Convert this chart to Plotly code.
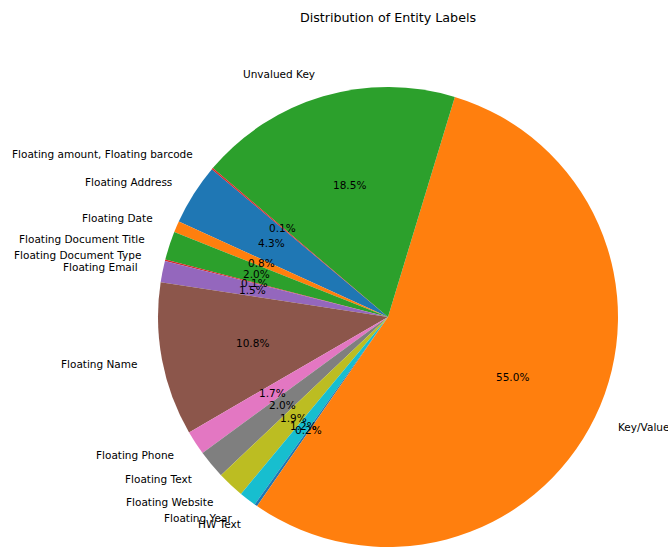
import math
import plotly.graph_objects as go

labels = [
    "Floating Address", "Floating Date", "Floating Document Title",
    "Floating Document Type", "Floating Email", "Floating Name",
    "Floating Phone", "Floating Text", "Floating Website", "Floating Year",
    "HW Text", "Key/Value", "Unvalued Key", "Floating amount, Floating barcode",
]
values = [4.3, 0.8, 2.0, 0.1, 1.5, 10.8, 1.7, 2.0, 1.9, 1.2, 0.2, 55.0, 18.5, 0.1]

tab10 = ["#1f77b4", "#ff7f0e", "#2ca02c", "#d62728", "#9467bd",
         "#8c564b", "#e377c2", "#7f7f7f", "#bcbd22", "#17becf"]
colors = [tab10[i % 10] for i in range(len(labels))]

start_angle = 140  # matplotlib-style, degrees CCW from +x
FONT = "DejaVu Sans"
fs = 10.5

total = sum(values)
# plotly (counterclockwise) places the end of the first slice at `rotation`
rotation = 90 - start_angle - 360.0 * values[0] / total

fig = go.Figure(go.Pie(
    labels=labels, values=values, sort=False, direction="counterclockwise",
    rotation=rotation,
    marker=dict(colors=colors, line=dict(width=0)),
    textinfo="none", hoverinfo="label+percent", showlegend=False,
))

annotations = []
cum = 0.0
for lab, v in zip(labels, values):
    mid = math.radians(start_angle + 360.0 * (cum + v / 2.0) / total)
    cum += v
    cx, cy = math.cos(mid), math.sin(mid)
    annotations.append(dict(
        x=0.5 + 0.55 * cx, y=0.5 + 0.55 * cy, xref="paper", yref="paper",
        text=lab, showarrow=False, xanchor="left" if cx > 0 else "right",
        yanchor="middle", font=dict(family=FONT, size=fs, color="black"),
    ))
    annotations.append(dict(
        x=0.5 + 0.30 * cx, y=0.5 + 0.30 * cy, xref="paper", yref="paper",
        text=f"{v:.1f}%", showarrow=False, xanchor="center",
        yanchor="middle", font=dict(family=FONT, size=fs, color="black"),
    ))

fig.update_layout(
    width=668, height=549,
    margin=dict(l=158, r=50, t=87, b=2),
    paper_bgcolor="white", plot_bgcolor="white",
    title=dict(text="Distribution of Entity Labels", x=0.5, xref="paper",
               y=1 - 18 / 549, yref="container", yanchor="middle", xanchor="center",
               font=dict(family=FONT, size=12.7, color="black")),
    annotations=annotations,
)
fig.write_html("out.html",
               config={"displayModeBar": False},
               post_script="document.body.style.margin='0';"
                           "document.body.style.overflow='hidden';")
